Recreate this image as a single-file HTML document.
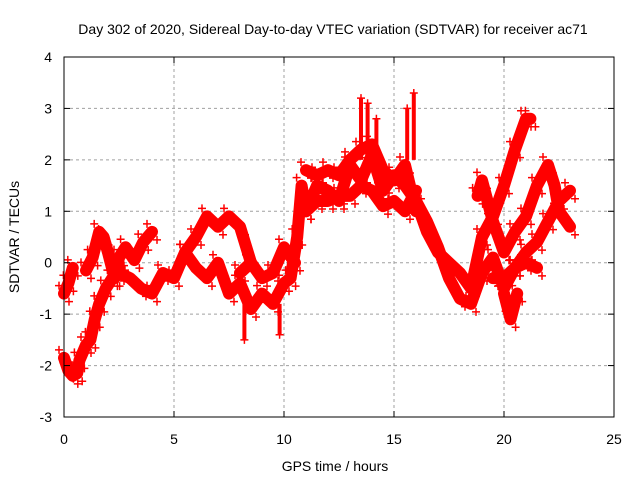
<!DOCTYPE html>
<html><head><meta charset="utf-8"><style>
body{margin:0;background:#fff}
svg{display:block;font-family:"Liberation Sans",sans-serif}
</style></head><body>
<svg id="c" width="640" height="480">
<text x="333" y="34" font-size="14" text-anchor="middle">Day 302 of 2020, Sidereal Day-to-day VTEC variation (SDTVAR) for receiver ac71</text>
<text x="335" y="471" font-size="14" text-anchor="middle">GPS time / hours</text>
<text transform="translate(19,237) rotate(-90)" font-size="14" text-anchor="middle">SDTVAR / TECUs</text>
<g id="grid"></g><g id="marks"></g><g id="axes"></g>
</svg>
<script>
const xTicks=[0,5,10,15,20,25];
const yTicks=[-3,-2,-1,0,1,2,3,4];
const trackA_t=[0,0.2,0.4,0.6,0.7,1.0,1.2,1.4,1.6,1.9,2.2,2.5];
const trackA_v=[-1.85,-2.1,-2.2,-2.15,-1.9,-1.6,-1.5,-1.1,-0.8,-0.5,-0.3,-0.1];
const trackB1_t=[0,0.2,0.4];
const trackB1_v=[-0.6,-0.4,-0.1];
const trackB2_t=[1.0,1.3,1.6,1.8,2.0,2.3,2.5,2.8,3.2,3.6,4.0];
const trackB2_v=[-0.15,0.1,0.6,0.5,0.2,-0.3,0.1,0.3,0.05,0.4,0.6];
const main_t=[2.5,3,3.5,4,4.5,5,5.5,6,6.5,7,7.5,8,8.5,9,9.5,10,10.3,10.6,10.8,11,11.5,12,12.5,13,13.5,14,14.5,15,15.5,16,16.5,17,17.5,18,18.5,19,19.5,20,20.5,21,21.5];
const main_v=[-0.2,-0.3,-0.5,-0.6,-0.2,-0.3,0.2,-0.1,-0.3,0.0,-0.6,-0.4,-0.9,-0.6,-0.8,-0.4,-0.3,0.5,1.5,1.0,1.5,1.4,1.2,1.9,1.6,2.1,1.4,1.7,1.5,1.2,0.8,0.3,-0.3,-0.7,-0.8,-0.2,0.1,-0.5,-0.1,0.0,-0.1];
const upper_t=[5.5,6,6.5,7,7.5,8,8.5];
const upper_v=[0.2,0.5,0.9,0.7,0.9,0.7,0.0];
const noisy_t=[8,8.5,9,9.5,10,10.5];
const noisy_v=[-0.2,0.0,-0.3,-0.2,0.3,0.0];
const high_t=[11,11.5,12,12.5,13,13.5,14,14.5,15,15.5,16];
const high_v=[1.8,1.7,1.8,1.7,2.0,2.2,2.3,1.8,1.6,1.9,1.0];
const low_t=[11,11.5,12,12.5,13,13.5,14,14.5,15,15.5,16];
const low_v=[1.0,1.2,1.2,1.3,1.3,1.5,1.4,1.1,1.2,1.0,1.4];
const spikes_t=[8.2,9.8,13.5,13.8,14.2,15.6,15.9];
const spikes_base=[-0.8,-0.8,2.0,2.0,2.0,2.0,2.0];
const spikes_v=[-1.5,-1.4,3.2,3.1,2.8,3.0,3.3];
const branch1_t=[16,16.5,17,17.5,18,18.5,19,19.5,20,20.5,21,21.2];
const branch1_v=[1.2,0.6,0.2,0.0,-0.2,-0.5,0.5,0.9,1.5,2.2,2.8,2.8];
const branch2_t=[18.8,19,19.5,20,20.5,21,21.5,22,22.3,22.5,23];
const branch2_v=[1.3,1.6,0.8,0.2,0.6,0.9,1.5,1.9,1.5,1.0,0.7];
const branch3_t=[19.5,20,20.5,21,21.5,22,22.5,23];
const branch3_v=[-0.3,-0.3,-0.1,0.2,0.4,0.8,1.2,1.4];
const branch4_t=[20,20.3,20.6];
const branch4_v=[-0.6,-1.1,-0.6];
const series=[[trackA_t,trackA_v],[trackB1_t,trackB1_v],[trackB2_t,trackB2_v],[main_t,main_v],[upper_t,upper_v],[noisy_t,noisy_v],[high_t,high_v],[low_t,low_v],[branch1_t,branch1_v],[branch2_t,branch2_v],[branch3_t,branch3_v],[branch4_t,branch4_v]];
const X0=64,X1=614,Y0=417,Y1=57;
const xs=t=>X0+(t-0)/(25-0)*(X1-X0);
const ys=v=>Y0-(v+3)/(4+3)*(Y0-Y1);
const NS="http://www.w3.org/2000/svg";
function mk(tag,attrs,parent){const e=document.createElementNS(NS,tag);for(const k in attrs)e.setAttribute(k,attrs[k]);parent.appendChild(e);return e;}
const grid=document.getElementById('grid'),marks=document.getElementById('marks'),axes=document.getElementById('axes');
xTicks.forEach(t=>{
 if(t>0&&t<25){const l=mk('line',{x1:xs(t),x2:xs(t),y1:Y1,y2:Y0,stroke:'#a0a0a0','stroke-dasharray':'3,3'},grid);
 
 }
 const tx=mk('text',{x:xs(t),y:Y0+27,'font-size':14,'text-anchor':'middle'},axes);tx.textContent=t;
 
 
 mk('line',{x1:xs(t),x2:xs(t),y1:Y0,y2:Y0-6,stroke:'#000'},axes);
 mk('line',{x1:xs(t),x2:xs(t),y1:Y1,y2:Y1+6,stroke:'#000'},axes);
});
yTicks.forEach(v=>{
 if(v>-3&&v<4){const l=mk('line',{x1:X0,x2:X1,y1:ys(v),y2:ys(v),stroke:'#a0a0a0','stroke-dasharray':'3,3'},grid);
 
 }
 const tx=mk('text',{x:X0-12,y:ys(v)+5,'font-size':14,'text-anchor':'end'},axes);tx.textContent=v;
 
 
 mk('line',{x1:X0,x2:X0+6,y1:ys(v),y2:ys(v),stroke:'#000'},axes);
 mk('line',{x1:X1,x2:X1-6,y1:ys(v),y2:ys(v),stroke:'#000'},axes);
});
const box=mk('rect',{x:X0,y:Y1,width:X1-X0,height:Y0-Y1,fill:'none',stroke:'#000'},axes);


function plus(x,y){const p=mk('path',{d:`M${x-4},${y}h8M${x},${y-4}v8`,stroke:'#f00','stroke-width':1.5},marks);
 
 }
series.forEach(([T,V])=>{
 const pts=T.map((t,i)=>xs(t)+','+ys(V[i])).join(' ');
 const pl=mk('polyline',{points:pts,fill:'none',stroke:'#f00','stroke-width':12,'stroke-linejoin':'round','stroke-linecap':'round'},marks);
 
 
 T.forEach((t,i)=>{plus(xs(t)-5,ys(V[i])-8);plus(xs(t)+5,ys(V[i])+8);});
});
spikes_t.forEach((t,i)=>{
 const l=mk('line',{x1:xs(t),x2:xs(t),y1:ys(spikes_v[i]),y2:ys(spikes_base[i]),stroke:'#f00','stroke-width':4},marks);
 
 
 plus(xs(t),ys(spikes_v[i]));
});
</script>
</body></html>
